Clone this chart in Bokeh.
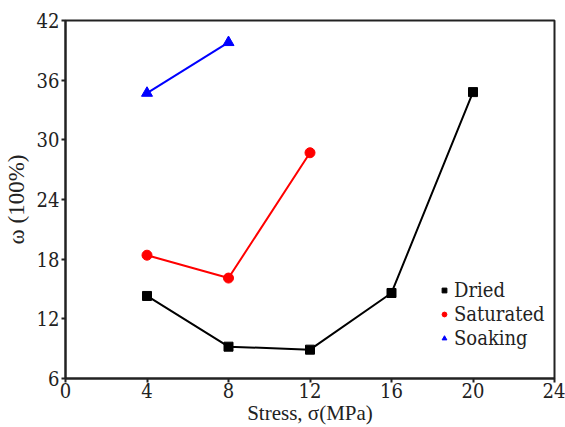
from bokeh.plotting import figure
from bokeh.models import Legend, LegendItem, FixedTicker, Range1d
from bokeh.embed import file_html
from bokeh.resources import INLINE

dried_x = [4, 8, 12, 16, 20]
dried_y = [14.3, 9.2, 8.9, 14.6, 34.8]
sat_x = [4, 8, 12]
sat_y = [18.4, 16.1, 28.7]
soak_x = [4, 8]
soak_y = [34.7, 39.8]
x_ticks = [0, 4, 8, 12, 16, 20, 24]
y_ticks = [6, 12, 18, 24, 30, 36, 42]

FONT = "Liberation Serif"
TICKFONT = "DejaVu Serif Condensed"

p = figure(width=565, height=427, output_backend="svg", toolbar_location=None,
           x_range=Range1d(0, 24), y_range=Range1d(6, 42),
           min_border_left=63, min_border_right=11, min_border_top=20, min_border_bottom=46)
p.grid.visible = False
p.outline_line_color = "#222222"
p.outline_line_width = 2

for ax in (p.xaxis[0], p.yaxis[0]):
    ax.axis_line_width = 2
    ax.axis_line_color = "#222222"
    ax.major_tick_line_width = 2
    ax.major_tick_line_color = "#222222"
    ax.major_tick_out = 4
    ax.major_tick_in = 0
    ax.minor_tick_line_color = None
    ax.major_label_text_font = TICKFONT
    ax.major_label_text_font_size = "20px"
    ax.major_label_text_font_style = "normal"
    ax.major_label_text_color = "#222222"
    ax.axis_label_text_font = FONT
    ax.axis_label_text_font_style = "normal"
    ax.axis_label_text_color = "#222222"

p.xaxis[0].ticker = FixedTicker(ticks=x_ticks)
p.yaxis[0].ticker = FixedTicker(ticks=y_ticks)
p.xaxis[0].axis_label = "Stress, σ(MPa)"
p.xaxis[0].axis_label_text_font_size = "21px"
p.xaxis[0].axis_label_standoff = 0
p.xaxis[0].major_label_standoff = 0
p.yaxis[0].axis_label = "ω (100%)"
p.yaxis[0].axis_label_text_font_size = "23px"
p.yaxis[0].axis_label_standoff = 5
p.yaxis[0].major_label_standoff = 2

p.line(dried_x, dried_y, line_color="black", line_width=2)
p.line(sat_x, sat_y, line_color="#ff0000", line_width=2)
p.line(soak_x, soak_y, line_color="#0000ff", line_width=2)
r1 = p.scatter(dried_x, dried_y, marker="square", size=9, color="black")
r2 = p.scatter(sat_x, sat_y, marker="circle", size=10, color="#ff0000")
r3 = p.scatter(soak_x, soak_y, marker="triangle", size=11, color="#0000ff")

legend = Legend(items=[LegendItem(label="Dried", renderers=[r1]),
                       LegendItem(label="Saturated", renderers=[r2]),
                       LegendItem(label="Soaking", renderers=[r3])],
                location=(373, 28))
legend.background_fill_alpha = 0
legend.border_line_color = None
legend.label_text_font = TICKFONT
legend.label_text_font_style = "normal"
legend.label_text_font_size = "20px"
legend.label_text_color = "#222222"
legend.glyph_width = 12
legend.glyph_height = 14
legend.label_height = 14
legend.spacing = -8
legend.padding = 2
legend.label_standoff = 4
legend.margin = 0
p.add_layout(legend, "center")

open("out.html", "w").write(file_html(p, INLINE))
